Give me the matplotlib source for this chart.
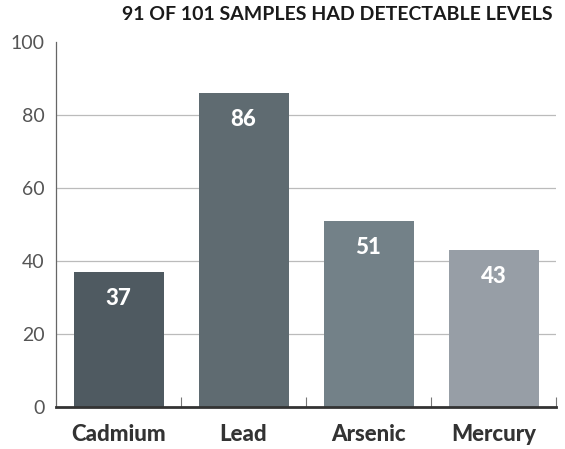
import matplotlib
matplotlib.use("Agg")
import matplotlib.pyplot as plt

categories = ["Cadmium", "Lead", "Arsenic", "Mercury"]
values = [37, 86, 51, 43]
colors = ["#4f5a61", "#5f6b71", "#738188", "#979ea6"]
title = "91 OF 101 SAMPLES HAD DETECTABLE LEVELS"

plt.rcParams['font.family'] = ['Lato', 'DejaVu Sans']

fig = plt.figure(figsize=(5.65, 4.49), dpi=100)
ax = fig.add_axes([56/565, 1-407/449, 500/565, 365/449])

x = list(range(len(categories)))
bars = ax.bar(x, values, width=0.72, color=colors, zorder=2)
for xi, v in zip(x, values):
    ax.annotate(str(v), (xi, v), xytext=(0, -19), textcoords="offset points",
                ha="center", va="center", color="white", fontsize=16, fontweight="black", zorder=3)

ax.set_xlim(-0.5, 3.5)
ax.set_ylim(0, 100)
ax.set_yticks([0, 20, 40, 60, 80, 100])
for g in [20, 40, 60, 80]:
    ax.axhline(g, color="#bbbbbb", lw=0.9, zorder=1)
ax.tick_params(axis="y", length=0, labelsize=14, labelcolor="#555555", pad=8)
ax.set_xticks(x)
ax.set_xticklabels(categories, fontsize=16, fontweight="black", color="#333333")
ax.tick_params(axis="x", length=0, pad=12)
ax.set_xticks([0.5, 1.5, 2.5, 3.5], minor=True)
ax.tick_params(axis="x", which="minor", direction="in", length=7, width=0.8, color="#777777")

for s in ["top", "right"]:
    ax.spines[s].set_visible(False)
ax.spines["left"].set_color("#666666")
ax.spines["left"].set_linewidth(0.9)
ax.spines["bottom"].set_color("#333333")
ax.spines["bottom"].set_linewidth(2)

fig.text(553/565, 1-14/449, title, ha="right", va="center", fontsize=14,
         fontweight="bold", color="#1a1a1a")

fig.savefig("out.png", dpi=100)
